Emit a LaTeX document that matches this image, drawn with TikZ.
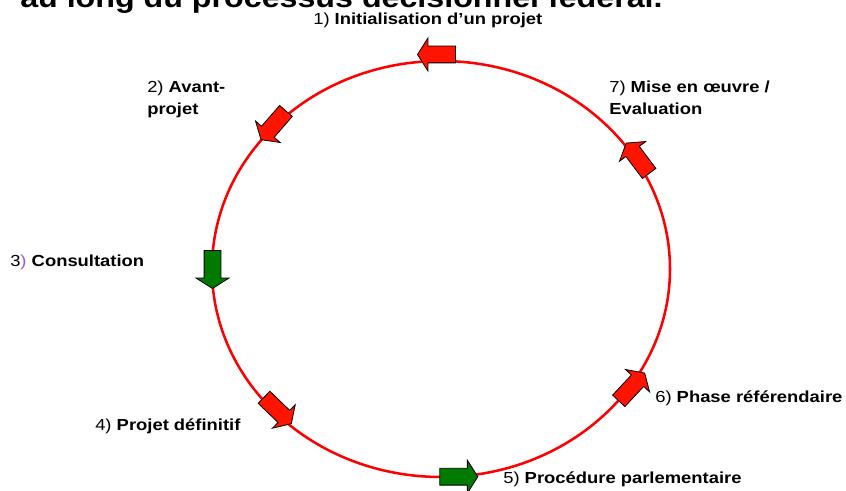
\documentclass[tikz,border=0pt]{standalone}
\usepackage{fontspec}
\setmainfont[FakeStretch=1.15]{Liberation Sans}
\usepackage{tikz}
\usetikzlibrary{shapes.arrows,positioning}
\definecolor{cycred}{HTML}{FF1400}
\definecolor{cycgreen}{HTML}{007A00}
\definecolor{parenviolet}{HTML}{8C5CF0}

\begin{document}
\begin{tikzpicture}[x=0.75pt, y=0.75pt,
    ring/.style={draw=red, line width=1.9pt},
    phase/.style={single arrow, draw=black, line width=0.6pt,
                  inner xsep=0pt, inner ysep=6pt,
                  minimum height=28.5pt,
                  single arrow head extend=6pt, single arrow tip angle=115},
    todo/.style={phase, fill=cycred},
    done/.style={phase, fill=cycgreen},
    lbl/.style={anchor=north west, inner sep=0pt, align=left,
                font=\fontsize{12}{16.5}\selectfont}
  ]
    \useasboundingbox (0,0) rectangle (846,490);
    \clip (0,0) rectangle (846,490);

    % title, cut by the top edge
    \node[anchor=base west, inner sep=0pt, font=\fontsize{21}{25}\selectfont\bfseries]
      (title) at (20,482) {au long du processus décisionnel fédéral.};

    \draw[ring] (441,221) ellipse [x radius=229, y radius=208];

    \node[todo, anchor=tip, rotate=180] (p1) at (417,435.5) {};
    \node[todo, anchor=tip, rotate=229] (p2) at (260.7,350) {};
    \node[done, anchor=tip, rotate=270] (p3) at (212.5,201) {};
    \node[todo, anchor=tip, rotate=-44] (p4) at (291.7,66)  {};
    \node[done, anchor=tip, rotate=0]   (p5) at (478.3,13.3) {};
    \node[todo, anchor=tip, rotate=47]  (p6) at (645,117.3) {};
    \node[todo, anchor=tip, rotate=127] (p7) at (626,347.3) {};

    \node[lbl] (l1) at (313,477) {1) \textbf{Initialisation d’un projet}};
    \node[lbl] (l2) at (147,409) {2) \textbf{Avant-}\\\textbf{projet}};
    \node[lbl] (l3) at (10,235)  {3\textcolor{parenviolet}{)} \textbf{Consultation}};
    \node[lbl] (l4) at (95,72)   {4) \textbf{Projet définitif}};
    \node[lbl] (l5) at (503,19)  {5) \textbf{Procédure parlementaire}};
    \node[lbl] (l6) at (655,100) {6) \textbf{Phase référendaire}};
    \node[lbl] (l7) at (609,409) {7) \textbf{Mise en œuvre /}\\\textbf{Evaluation}};
\end{tikzpicture}
\end{document}
